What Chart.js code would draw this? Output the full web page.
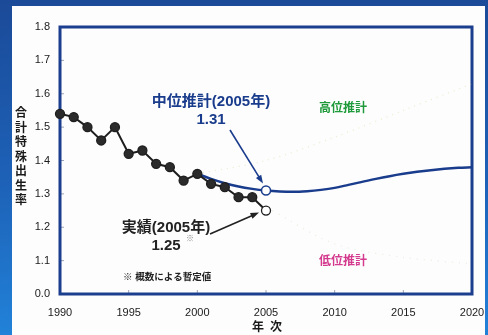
<!DOCTYPE html>
<html>
<head>
<meta charset="utf-8">
<script src="https://cdn.jsdelivr.net/npm/chart.js@4"></script>
<style>
  html, body { margin: 0; padding: 0; }
  body {
    width: 488px; height: 335px; position: relative; overflow: hidden;
    background: linear-gradient(180deg, #1b4a98 0%, #1d62b8 55%, #2182d8 100%);
  }
  #panel {
    position: absolute; left: 12px; top: 6px; width: 473px; height: 329px;
    background: #fdfdfd;
  }
  #chart { position: absolute; left: 0; top: 0; }
</style>
</head>
<body>
<div id="panel"></div>
<canvas id="chart" width="488" height="335"></canvas>
<script>
// 合計特殊出生率 実績 (1990-2005)
const actualYears = [1990, 1991, 1992, 1993, 1994, 1995, 1996, 1997, 1998, 1999, 2000, 2001, 2002, 2003, 2004, 2005];
const actualRates = [1.54, 1.53, 1.50, 1.46, 1.50, 1.42, 1.43, 1.39, 1.38, 1.34, 1.36, 1.33, 1.32, 1.29, 1.29, 1.25];

// 中位推計
const midYears = [2000, 2001, 2002, 2003, 2004, 2005, 2006, 2007, 2008, 2009, 2010, 2011, 2012, 2013, 2014, 2015, 2016, 2017, 2018, 2019, 2020];
const midRates = [1.36, 1.345, 1.332, 1.322, 1.315, 1.31, 1.307, 1.306, 1.308, 1.312, 1.318, 1.327, 1.336, 1.345, 1.353, 1.36, 1.366, 1.371, 1.375, 1.378, 1.38];

// 高位推計 / 低位推計
const highYears = [2000, 2005, 2010, 2015, 2020];
const highRates = [1.36, 1.40, 1.47, 1.55, 1.63];
const lowYears = [2000, 2005, 2010, 2015, 2020];
const lowRates = [1.36, 1.26, 1.15, 1.11, 1.09];

const xTicks = [1990, 1995, 2000, 2005, 2010, 2015, 2020];
const yTicks = [1.0, 1.1, 1.2, 1.3, 1.4, 1.5, 1.6, 1.7, 1.8];

const mid2005 = 1.31;
const actual2005 = 1.25;

const NUM_FONT = '"Liberation Sans", Arial, "Noto Sans CJK JP", sans-serif';
const JP_FONT = '"Liberation Sans", "Noto Sans CJK JP", sans-serif';

function toPoints(xs, ys) {
  return xs.map((x, i) => ({ x: x, y: ys[i] }));
}

// frame, titles and notes
const decorations = {
  id: 'decorations',
  beforeDatasetsDraw(chart) {
    const ctx = chart.ctx;
    const a = chart.chartArea;
    const y = chart.scales.y;
    const x = chart.scales.x;
    ctx.save();
    // small inner ticks
    ctx.strokeStyle = '#9aa4b8';
    ctx.lineWidth = 1;
    yTicks.forEach(v => {
      const py = y.getPixelForValue(v);
      ctx.beginPath(); ctx.moveTo(a.left, py); ctx.lineTo(a.left + 4, py); ctx.stroke();
    });
    xTicks.forEach(v => {
      const px = x.getPixelForValue(v);
      ctx.beginPath(); ctx.moveTo(px, a.bottom); ctx.lineTo(px, a.bottom - 4); ctx.stroke();
    });
    ctx.strokeStyle = '#1c3e8e';
    ctx.lineWidth = 3;
    ctx.strokeRect(a.left, a.top, a.right - a.left, a.bottom - a.top);
    ctx.restore();
  },
  afterDatasetsDraw(chart) {
    const ctx = chart.ctx;
    const x = chart.scales.x;
    const y = chart.scales.y;
    ctx.save();
    ctx.textAlign = 'center';
    ctx.textBaseline = 'middle';

    // y axis title, one character per line
    ctx.fillStyle = '#1a1a1a';
    ctx.font = 'bold 12px ' + JP_FONT;
    '合計特殊出生率'.split('').forEach((c, i) => ctx.fillText(c, 21, 114 + i * 14.5));
    // x axis title
    ctx.fillText('年', 258, 328);
    ctx.fillText('次', 276, 328);

    // 中位推計 label and arrow
    ctx.fillStyle = '#1a3c8c';
    ctx.font = 'bold 15px ' + JP_FONT;
    ctx.fillText('中位推計(2005年)', 211, 102);
    ctx.fillText(mid2005.toFixed(2), 211, 120);
    const mx = x.getPixelForValue(2005), my = y.getPixelForValue(mid2005);
    arrow(ctx, 230, 130, mx - 3, my - 7, '#1a3c8c');

    // 実績 label and arrow
    ctx.fillStyle = '#222';
    ctx.font = 'bold 15px ' + JP_FONT;
    ctx.fillText('実績(2005年)', 166, 228);
    ctx.fillText(actual2005.toFixed(2), 166, 246);
    ctx.fillStyle = '#888';
    ctx.font = '8px ' + JP_FONT;
    ctx.fillText('※', 190, 239);
    const ax = x.getPixelForValue(2005), ay = y.getPixelForValue(actual2005);
    arrow(ctx, 210, 234, ax - 7, ay + 2, '#222');

    // scenario labels
    ctx.font = 'bold 12px ' + JP_FONT;
    ctx.fillStyle = '#1f9a3a';
    ctx.fillText('高位推計', 343, 109);
    ctx.fillStyle = '#d43a8e';
    ctx.fillText('低位推計', 343, 262);

    // note
    ctx.fillStyle = '#222';
    ctx.font = 'bold 9.5px ' + JP_FONT;
    ctx.textAlign = 'left';
    ctx.fillText('※ 概数による暫定値', 123, 277);
    ctx.restore();
  }
};

function arrow(ctx, x1, y1, x2, y2, color) {
  const ang = Math.atan2(y2 - y1, x2 - x1);
  ctx.strokeStyle = color;
  ctx.fillStyle = color;
  ctx.lineWidth = 1.6;
  ctx.beginPath(); ctx.moveTo(x1, y1); ctx.lineTo(x2 - 6 * Math.cos(ang), y2 - 6 * Math.sin(ang)); ctx.stroke();
  ctx.beginPath();
  ctx.moveTo(x2, y2);
  ctx.lineTo(x2 - 9 * Math.cos(ang - 0.35), y2 - 9 * Math.sin(ang - 0.35));
  ctx.lineTo(x2 - 9 * Math.cos(ang + 0.35), y2 - 9 * Math.sin(ang + 0.35));
  ctx.closePath();
  ctx.fill();
}

const actualFill = actualYears.map((yr, i) => i === actualYears.length - 1 ? '#ffffff' : '#2b2b2b');
const midRadius = midYears.map(yr => yr === 2005 ? 4.5 : 0);

new Chart(document.getElementById('chart'), {
  type: 'line',
  data: {
    datasets: [
      {
        data: toPoints(actualYears, actualRates),
        borderColor: '#1e1e1e',
        borderWidth: 2,
        pointRadius: 4.5,
        pointBorderWidth: 1.3,
        pointBackgroundColor: actualFill,
        pointBorderColor: '#1e1e1e',
        tension: 0,
        clip: false
      },
      {
        data: toPoints(midYears, midRates),
        borderColor: '#1a3c8c',
        borderWidth: 2.5,
        pointRadius: midRadius,
        pointBackgroundColor: '#ffffff',
        pointBorderColor: '#1a3c8c',
        pointBorderWidth: 1.5,
        cubicInterpolationMode: 'monotone',
        clip: false
      },
      {
        data: toPoints(highYears, highRates),
        borderColor: 'rgba(200, 210, 130, 0.35)',
        borderWidth: 1.3,
        borderDash: [1, 5],
        pointRadius: 0,
        tension: 0.3
      },
      {
        data: toPoints(lowYears, lowRates),
        borderColor: 'rgba(200, 200, 170, 0.3)',
        borderWidth: 1.3,
        borderDash: [1, 6],
        pointRadius: 0,
        tension: 0.3
      }
    ]
  },
  options: {
    responsive: false,
    animation: false,
    layout: { padding: { top: 27, right: 16, left: 0, bottom: 0 } },
    plugins: { legend: { display: false }, tooltip: { enabled: false } },
    scales: {
      x: {
        type: 'linear',
        min: 1990,
        max: 2020,
        afterBuildTicks: s => { s.ticks = xTicks.map(v => ({ value: v })); },
        afterFit: s => { s.height = 41; s.paddingLeft = 0; s.paddingRight = 0; },
        grid: { display: false, drawTicks: false },
        border: { display: false },
        ticks: {
          padding: 12,
          color: '#1a1a1a',
          font: { family: NUM_FONT, size: 11 },
          maxRotation: 0,
          callback: v => String(v)
        }
      },
      y: {
        min: 1.0,
        max: 1.8,
        afterBuildTicks: s => { s.ticks = yTicks.map(v => ({ value: v })); },
        afterFit: s => { s.width = 60; s.paddingTop = 0; s.paddingBottom = 0; },
        grid: { display: false, drawTicks: false },
        border: { display: false },
        ticks: {
          padding: 10,
          color: '#1a1a1a',
          font: { family: NUM_FONT, size: 11 },
          // axis is broken below 1.1, bottom tick reads 0.0
          callback: v => Math.abs(v - 1.0) < 1e-6 ? '0.0' : v.toFixed(1)
        }
      }
    }
  },
  plugins: [decorations]
});
</script>
</body>
</html>
